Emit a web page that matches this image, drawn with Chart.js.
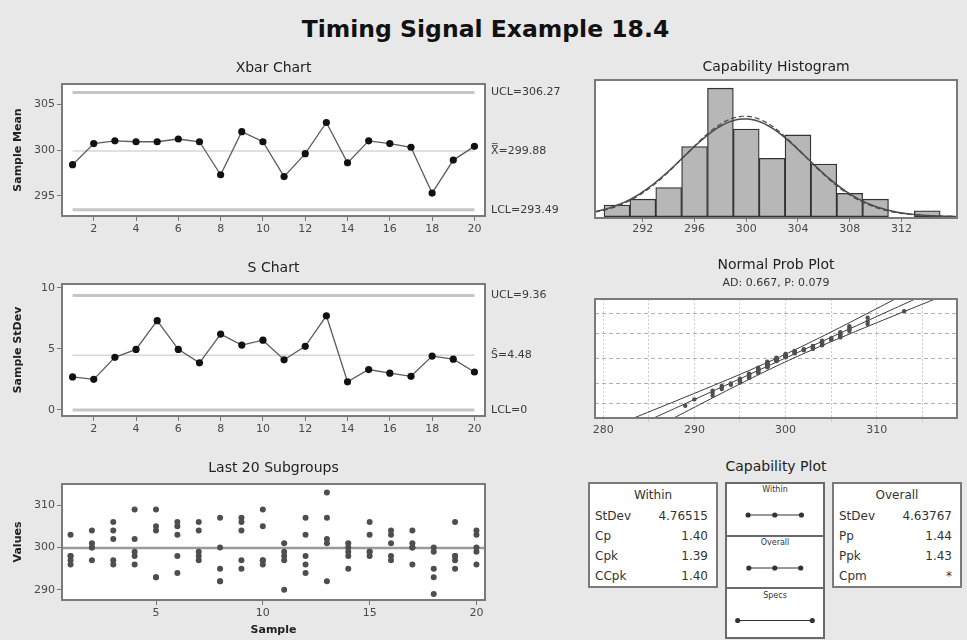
<!DOCTYPE html>
<html>
<head>
<meta charset="utf-8">
<title>Timing Signal Example 18.4</title>
<script src="https://cdn.jsdelivr.net/npm/chart.js@4.4.1/dist/chart.umd.min.js"></script>
<style>
  body { margin: 0; background: #e8e8e8; font-family: "DejaVu Sans", sans-serif; }
  #page { position: relative; width: 967px; height: 640px; overflow: hidden; background: #e8e8e8; }
  canvas { position: absolute; }
  .main-title { position: absolute; left: 2px; top: 15px; width: 967px; text-align: center;
    font-weight: bold; font-size: 23.5px; color: #111; }
  .panel-title { position: absolute; text-align: center; font-size: 14px; color: #222; }
  .box { position: absolute; background: #fff; border: 2px solid #7a7a7a; box-sizing: border-box;
    font-size: 12px; color: #333; }
  .box .head { text-align: center; height: 22px; line-height: 22px; }
  .box .row { display: flex; justify-content: space-between; height: 20px; line-height: 20px;
    padding: 0 8px 0 5px; }
  .col { position: absolute; background: #fff; box-sizing: border-box; border-left: 2px solid #6a6a6a;
    border-right: 2px solid #6a6a6a; border-bottom: 2px solid #6a6a6a; }
  .col-head { position: absolute; left: 725px; width: 100px; box-sizing: border-box; background: #fff;
    border: 2px solid #6a6a6a; font-size: 8px; color: #333; text-align: center; }
</style>
</head>
<body>
<div id="page">
  <div class="main-title">Timing Signal Example 18.4</div>

  <canvas id="xbar" width="565" height="192" style="left:0;top:52px"></canvas>
  <canvas id="schart" width="565" height="192" style="left:0;top:252px"></canvas>
  <canvas id="last20" width="565" height="188" style="left:0;top:452px"></canvas>
  <canvas id="hist" width="402" height="196" style="left:565px;top:48px"></canvas>
  <canvas id="prob" width="402" height="196" style="left:565px;top:250px"></canvas>

  <div class="panel-title" style="left:676px;width:200px;top:458px">Capability Plot</div>
  <div id="withinBox" class="box" style="left:588px;top:482px;width:130px;height:106px"></div>
  <div id="overallBox" class="box" style="left:832px;top:482px;width:130px;height:106px"></div>

  <div class="col-head" style="top:482px;height:15px;line-height:11px">Within</div>
  <div class="col" style="left:725px;top:495px;width:100px;height:42px"></div>
  <canvas id="ivWithin" width="96" height="38" style="left:727px;top:496px"></canvas>
  <div class="col-head" style="top:535px;height:16px;line-height:12px">Overall</div>
  <div class="col" style="left:725px;top:549px;width:100px;height:40px"></div>
  <canvas id="ivOverall" width="96" height="36" style="left:727px;top:550px"></canvas>
  <div class="col-head" style="top:587px;height:18px;line-height:14px">Specs</div>
  <div class="col" style="left:725px;top:603px;width:100px;height:36px"></div>
  <canvas id="ivSpecs" width="96" height="33" style="left:727px;top:604px"></canvas>
</div>

<script>
// sample numbers on the x axis of the control charts
const sampleNo = [1, 2, 3, 4, 5, 6, 7, 8, 9, 10, 11, 12, 13, 14, 15, 16, 17, 18, 19, 20];

// Xbar chart
const xbarValues = [298.4, 300.7, 301.0, 300.9, 300.9, 301.2, 300.9, 297.3, 302.0, 300.9,
                    297.1, 299.6, 303.0, 298.6, 301.0, 300.7, 300.3, 295.3, 298.9, 300.4];
const xbarLimits = [306.27, 299.88, 293.49];
const xbarLimitLabels = ['UCL=306.27', 'X\u033F=299.88', 'LCL=293.49'];
const xbarTicks = [295, 300, 305];

// S chart
const sValues = [2.7, 2.5, 4.3, 4.95, 7.3, 4.95, 3.85, 6.2, 5.3, 5.7,
                 4.1, 5.2, 7.7, 2.3, 3.3, 3.0, 2.75, 4.4, 4.15, 3.1];
const sLimits = [9.36, 4.48, 0];
const sLimitLabels = ['UCL=9.36', 'S\u0304=4.48', 'LCL=0'];
const sTicks = [0, 5, 10];

// last 20 subgroups, 5 observations each
const subgroups = [
  [303, 298, 297, 296, 298], [304, 301, 300, 300, 297], [306, 304, 302, 297, 296],
  [309, 302, 299, 298, 296], [309, 305, 304, 293, 293], [306, 305, 303, 298, 294],
  [306, 304, 299, 298, 297], [307, 300, 295, 292, 292], [307, 306, 304, 297, 295],
  [309, 305, 297, 297, 296], [301, 299, 298, 297, 290], [307, 303, 298, 296, 294],
  [313, 307, 302, 301, 292], [301, 300, 299, 298, 295], [306, 303, 299, 299, 298],
  [304, 303, 301, 298, 297], [304, 301, 300, 300, 296], [300, 299, 295, 293, 289],
  [306, 298, 298, 297, 295], [304, 303, 300, 299, 296]
];
const last20Ticks = [290, 300, 310];
const last20XTicks = [5, 10, 15, 20];

// capability histogram (bin centres, width 2)
const histCenters = [290, 292, 294, 296, 298, 300, 302, 304, 306, 308, 310, 312, 314];
const histCounts  = [2, 3, 5, 12, 22, 15, 10, 14, 9, 4, 3, 0, 1];
const histTicks = [292, 296, 300, 304, 308, 312];

// process summary
const processMean = 299.88;
const withinSd = 4.76515;
const overallSd = 4.63767;
const specLimits = [280, 320];

// normal probability plot
const adText = 'AD: 0.667, P: 0.079';
const probXTicks = [280, 285, 290, 295, 300, 305, 310, 315];
const probGridPct = [1, 10, 50, 90, 99];

// capability plot tables
const withinLabels = ['StDev', 'Cp', 'Cpk', 'CCpk'];
const withinValues = ['4.76515', '1.40', '1.39', '1.40'];
const overallLabels = ['StDev', 'Pp', 'Ppk', 'Cpm'];
const overallValues = ['4.63767', '1.44', '1.43', '*'];

Chart.defaults.font.family = '"DejaVu Sans", sans-serif';
Chart.defaults.color = '#4a4a4a';
Chart.defaults.animation = false;
Chart.defaults.responsive = false;
Chart.defaults.plugins.legend.display = false;
Chart.defaults.plugins.tooltip.enabled = false;

const tickFont = { size: 11 };
const axisTitleFont = { size: 11, weight: 'bold' };

const fixW = w => s => { s.width = w; };
const fixH = h => s => { s.height = h; };
const setTicks = arr => s => { s.ticks = arr.map(v => ({ value: v })); };

// white plot area with a grey frame
const frame = {
  id: 'frame',
  beforeDraw(chart) {
    const { ctx, chartArea: a } = chart;
    ctx.save();
    ctx.fillStyle = '#fff';
    ctx.fillRect(a.left, a.top, a.right - a.left, a.bottom - a.top);
    ctx.restore();
  },
  afterDraw(chart) {
    const { ctx, chartArea: a } = chart;
    ctx.save();
    ctx.strokeStyle = '#7a7a7a';
    ctx.lineWidth = 2;
    ctx.strokeRect(a.left, a.top, a.right - a.left, a.bottom - a.top);
    ctx.restore();
  }
};

function panelTitle(text, top, bottom) {
  return { display: true, text, fullSize: false, font: { size: 14, weight: 'normal' }, color: '#222',
           padding: { top, bottom } };
}

function xAxis(min, max, ticks, height, title) {
  return {
    type: 'linear', min, max, offset: false,
    afterBuildTicks: setTicks(ticks), afterFit: fixH(height),
    ticks: { font: tickFont, padding: 2, maxRotation: 0, autoSkip: false },
    grid: { drawOnChartArea: false, tickLength: 5, color: '#777', offset: false },
    border: { display: false },
    title: title ? { display: true, text: title, font: axisTitleFont, color: '#222', padding: { top: 0, bottom: 3 } }
                 : { display: false }
  };
}

function yAxis(min, max, ticks, title) {
  return {
    type: 'linear', min, max,
    afterBuildTicks: setTicks(ticks), afterFit: fixW(62),
    ticks: { font: tickFont, padding: 2, autoSkip: false },
    grid: { drawOnChartArea: false, tickLength: 5, color: '#777' },
    border: { display: false },
    title: { display: true, text: title, font: axisTitleFont, color: '#222', padding: { top: 12, bottom: 0 } }
  };
}

function limitAxis(min, max, values, labels) {
  return {
    type: 'linear', position: 'right', min, max,
    afterBuildTicks: setTicks(values), afterFit: fixW(80),
    ticks: { font: tickFont, color: '#3a3a3a', padding: 6, autoSkip: false, callback: (v, i) => labels[i] },
    grid: { display: false, drawTicks: false },
    border: { display: false }
  };
}

function limitLine(y, width, color) {
  return { data: [{ x: sampleNo[0], y }, { x: sampleNo[sampleNo.length - 1], y }], showLine: true,
           borderColor: color, borderWidth: width, pointRadius: 0 };
}

function controlChart(id, title, yTitle, values, limits, labels, ticks, yMin, yMax) {
  return new Chart(document.getElementById(id), {
    type: 'scatter',
    data: {
      datasets: [
        { data: sampleNo.map((x, i) => ({ x, y: values[i] })), showLine: true, borderColor: '#5c5c5c',
          borderWidth: 1.3, pointRadius: 3.6, pointBackgroundColor: '#111', pointBorderWidth: 0 },
        limitLine(limits[0], 3, '#c6c6c6'),
        limitLine(limits[1], 1.5, '#d6d6d6'),
        limitLine(limits[2], 3, '#c6c6c6')
      ]
    },
    options: {
      layout: { padding: 0 },
      plugins: { title: panelTitle(title, 7.6, 7.6) },
      scales: {
        x: xAxis(0.5, 20.5, [2, 4, 6, 8, 10, 12, 14, 16, 18, 20], 28),
        y: yAxis(yMin, yMax, ticks, yTitle),
        yr: limitAxis(yMin, yMax, limits, labels)
      }
    },
    plugins: [frame]
  });
}

controlChart('xbar', 'Xbar Chart', 'Sample Mean', xbarValues, xbarLimits, xbarLimitLabels, xbarTicks, 292.8, 307.2);
controlChart('schart', 'S Chart', 'Sample StDev', sValues, sLimits, sLimitLabels, sTicks, -0.5, 10.3);

// last 20 subgroups
const subgroupPoints = [];
subgroups.forEach((g, i) => g.forEach(v => subgroupPoints.push({ x: sampleNo[i], y: v })));

new Chart(document.getElementById('last20'), {
  type: 'scatter',
  data: {
    datasets: [
      { data: subgroupPoints, pointRadius: 3, pointBackgroundColor: '#4e4e4e', pointBorderWidth: 0 },
      { data: [{ x: 0.6, y: processMean }, { x: 20.4, y: processMean }], showLine: true,
        borderColor: '#9a9a9a', borderWidth: 2.5, pointRadius: 0 }
    ]
  },
  options: {
    layout: { padding: { right: 80 } },
    plugins: { title: panelTitle('Last 20 Subgroups', 7.6, 7.6) },
    scales: {
      x: xAxis(0.6, 20.4, last20XTicks, 40, 'Sample'),
      y: yAxis(287.6, 315, last20Ticks, 'Values')
    }
  },
  plugins: [frame]
});

// capability histogram with fitted normal curves
const binWidth = 2;
const totalN = 100;
function normalCurve(sd) {
  const pts = [];
  for (let x = 288.3; x <= 316.31; x += 0.2) {
    const z = (x - processMean) / sd;
    pts.push({ x, y: totalN * binWidth * Math.exp(-0.5 * z * z) / (sd * Math.sqrt(2 * Math.PI)) });
  }
  return pts;
}

new Chart(document.getElementById('hist'), {
  type: 'bar',
  data: {
    datasets: [
      { type: 'line', data: normalCurve(withinSd), borderColor: '#4a4a4a', borderWidth: 1.5, pointRadius: 0 },
      { type: 'line', data: normalCurve(overallSd), borderColor: '#4a4a4a', borderWidth: 1.2,
        borderDash: [5, 3], pointRadius: 0 },
      { data: histCenters.map((x, i) => ({ x, y: histCounts[i] })).filter(d => d.y > 0),
        backgroundColor: '#b7b7b7', borderColor: '#333', borderWidth: 1.3, borderSkipped: false,
        barPercentage: 1, categoryPercentage: 1 }
    ]
  },
  options: {
    layout: { padding: { right: 10 } },
    plugins: { title: panelTitle('Capability Histogram', 10.6, 4.6) },
    scales: {
      x: Object.assign(xAxis(288.3, 316.3, histTicks, 26), {
        ticks: { font: tickFont, padding: 1, maxRotation: 0, autoSkip: false },
        grid: { drawOnChartArea: false, tickLength: 4, color: '#777', offset: false } }),
      y: { min: -0.22, max: 23.4, afterFit: fixW(30), ticks: { display: false },
           grid: { display: false }, border: { display: false } }
    }
  },
  plugins: [frame]
});

// normal probability plot
function probit(p) {
  const a = [-39.6968302866538, 220.946098424521, -275.928510446969, 138.357751867269, -30.6647980661472, 2.50662827745924];
  const b = [-54.4760987982241, 161.585836858041, -155.698979859887, 66.8013118877197, -13.2806815528857];
  const c = [-0.00778489400243029, -0.322396458041136, -2.40075827716184, -2.54973253934373, 4.37466414146497, 2.93816398269878];
  const d = [0.00778469570904146, 0.32246712907004, 2.445134137143, 3.75440866190742];
  const tail = q => (((((c[0] * q + c[1]) * q + c[2]) * q + c[3]) * q + c[4]) * q + c[5]) /
                    ((((d[0] * q + d[1]) * q + d[2]) * q + d[3]) * q + 1);
  if (p < 0.02425) return tail(Math.sqrt(-2 * Math.log(p)));
  if (p > 1 - 0.02425) return -tail(Math.sqrt(-2 * Math.log(1 - p)));
  const q = p - 0.5, r = q * q;
  return (((((a[0] * r + a[1]) * r + a[2]) * r + a[3]) * r + a[4]) * r + a[5]) * q /
         (((((b[0] * r + b[1]) * r + b[2]) * r + b[3]) * r + b[4]) * r + 1);
}

const allValues = subgroups.flat().sort((p, q) => p - q);
const nObs = allValues.length;
const probPoints = allValues.map((v, i) => ({ x: v, y: probit((i + 1 - 0.3) / (nObs + 0.4)) }));
const fitLine = [], bandLo = [], bandHi = [];
for (let z = -3.4; z <= 3.41; z += 0.1) {
  const half = 1.96 * overallSd * Math.sqrt(1 / nObs + z * z / (2 * (nObs - 1)));
  fitLine.push({ x: processMean + z * overallSd, y: z });
  bandLo.push({ x: processMean + z * overallSd - half, y: z });
  bandHi.push({ x: processMean + z * overallSd + half, y: z });
}
const zLimit = -probit(0.001);

new Chart(document.getElementById('prob'), {
  type: 'scatter',
  data: {
    datasets: [
      { data: probPoints, pointRadius: 2.2, pointBackgroundColor: '#505050', pointBorderWidth: 0 },
      { data: fitLine, showLine: true, borderColor: '#3a3a3a', borderWidth: 1, pointRadius: 0 },
      { data: bandLo, showLine: true, borderColor: '#3a3a3a', borderWidth: 1, pointRadius: 0 },
      { data: bandHi, showLine: true, borderColor: '#3a3a3a', borderWidth: 1, pointRadius: 0 }
    ]
  },
  options: {
    layout: { padding: { right: 10 } },
    plugins: {
      title: panelTitle('Normal Prob Plot', 6.6, 0),
      subtitle: { display: true, text: adText, fullSize: false, font: { size: 11 }, color: '#333',
                  padding: { top: 3, bottom: 9.4 } }
    },
    scales: {
      x: {
        type: 'linear', min: 279.1, max: 318.8, afterBuildTicks: setTicks(probXTicks), afterFit: fixH(28),
        ticks: { font: tickFont, padding: 2, maxRotation: 0, autoSkip: false,
                 callback: v => (v % 10 === 0 ? v : '') },
        grid: { color: '#cdcdcd', tickLength: 4 },
        border: { display: false, dash: [2, 2] }
      },
      y: {
        type: 'linear', min: -zLimit, max: zLimit, afterFit: fixW(30),
        afterBuildTicks: setTicks(probGridPct.map(p => probit(p / 100))),
        ticks: { display: false },
        grid: { color: '#b0b0b0', drawTicks: false },
        border: { display: false, dash: [4, 3] }
      }
    }
  },
  plugins: [frame]
});

// capability plot: text tables
function fillBox(id, head, labels, values) {
  const box = document.getElementById(id);
  let html = '<div class="head">' + head + '</div>';
  labels.forEach((l, i) => {
    html += '<div class="row"><span>' + l + '</span><span>' + values[i] + '</span></div>';
  });
  box.innerHTML = html;
}
fillBox('withinBox', 'Within', withinLabels, withinValues);
fillBox('overallBox', 'Overall', overallLabels, overallValues);

// capability plot: process intervals against the specs
function intervalChart(id, xs) {
  new Chart(document.getElementById(id), {
    type: 'scatter',
    data: {
      datasets: [{ data: xs.map(x => ({ x, y: 0 })), showLine: true, borderColor: '#333', borderWidth: 1,
                   pointRadius: 2.6, pointBackgroundColor: '#333', pointBorderWidth: 0 }]
    },
    options: {
      layout: { padding: 0 },
      scales: {
        x: { display: false, min: 276.4, max: 323.6 },
        y: { display: false, min: -1, max: 1 }
      }
    }
  });
}
intervalChart('ivWithin', [processMean - 3 * withinSd, processMean, processMean + 3 * withinSd]);
intervalChart('ivOverall', [processMean - 3 * overallSd, processMean, processMean + 3 * overallSd]);
intervalChart('ivSpecs', specLimits);
</script>
</body>
</html>
